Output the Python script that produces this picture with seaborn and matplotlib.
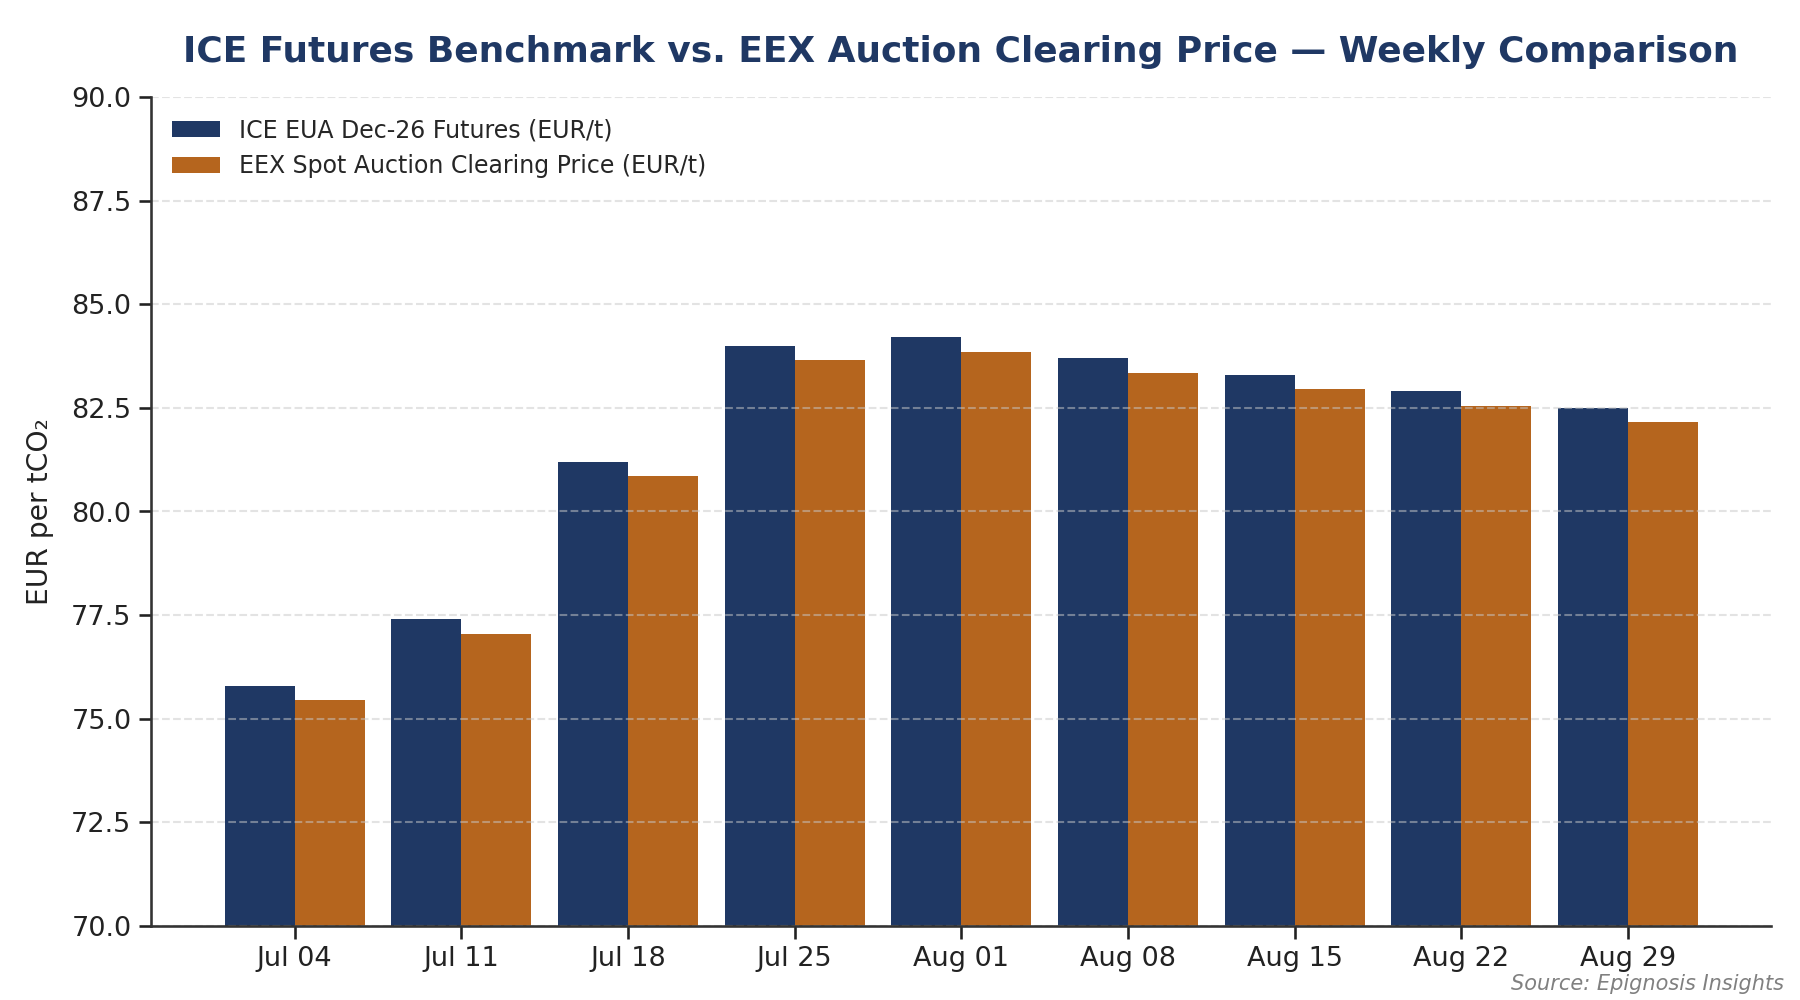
import matplotlib
matplotlib.use('Agg')
import matplotlib.pyplot as plt
import seaborn as sns
import pandas as pd

weeks = ['Jul 04', 'Jul 11', 'Jul 18', 'Jul 25', 'Aug 01', 'Aug 08', 'Aug 15', 'Aug 22', 'Aug 29']
ice_futures = [75.8, 77.4, 81.2, 84.0, 84.2, 83.7, 83.3, 82.9, 82.5]
eex_auction = [75.45, 77.05, 80.85, 83.65, 83.85, 83.35, 82.95, 82.55, 82.15]

ice_label = 'ICE EUA Dec-26 Futures (EUR/t)'
eex_label = 'EEX Spot Auction Clearing Price (EUR/t)'

df = pd.DataFrame({
    'week': weeks * 2,
    'price': ice_futures + eex_auction,
    'series': [ice_label] * len(weeks) + [eex_label] * len(weeks),
})

sns.set_theme(style='ticks')
plt.rcParams['font.family'] = ['DejaVu Sans']

fig, ax = plt.subplots(figsize=(12, 6.667), dpi=150)
sns.barplot(data=df, x='week', y='price', hue='series',
            palette={ice_label: '#1f3864', eex_label: '#b5651e'},
            width=0.84, saturation=1, gap=0, linewidth=0, ax=ax, zorder=1)

ax.set_ylim(70, 90)
ax.set_yticks([70 + 2.5 * i for i in range(9)])
ax.set_yticklabels([f"{70 + 2.5 * i:.1f}" for i in range(9)])
ax.set_xlim(-0.86, len(weeks) - 1 + 0.86)
ax.grid(axis='y', color='#c8c8c8', linestyle='--', linewidth=1, alpha=0.5)
ax.set_axisbelow('line')
ax.xaxis.grid(False)

ax.set_xlabel('')
ax.set_ylabel('EUR per tCO₂', fontsize=13.5, color='#222222', labelpad=8)
ax.tick_params(axis='both', labelsize=13, colors='#222222')
for s in ['top', 'right']:
    ax.spines[s].set_visible(False)
for s in ['left', 'bottom']:
    ax.spines[s].set_color('#333333')
    ax.spines[s].set_zorder(3)

ax.legend(title=None, frameon=False, loc='upper left', fontsize=11.35)
ax.set_title('ICE Futures Benchmark vs. EEX Auction Clearing Price — Weekly Comparison',
             fontsize=17.3, fontweight='bold', color='#1f3864', pad=17)

fig.text(0.991, 0.006, 'Source: Epignosis Insights', ha='right', va='bottom',
         fontsize=10, style='italic', color='#808080')

plt.subplots_adjust(left=0.084, right=0.984, top=0.903, bottom=0.074)
plt.savefig('out.png', dpi=150)
